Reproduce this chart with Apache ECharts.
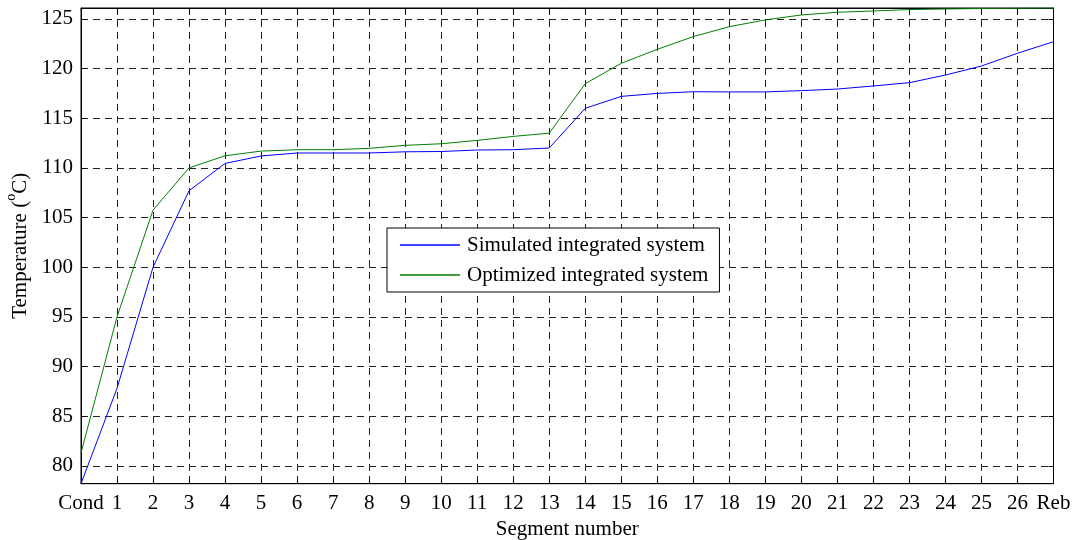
<!DOCTYPE html>
<html>
<head>
<meta charset="utf-8">
<script src="https://cdn.jsdelivr.net/npm/echarts@6/dist/echarts.min.js"></script>
<style>
html,body{margin:0;padding:0;background:#fff;}
#chart{width:1073px;height:540px;}
</style>
</head>
<body>
<div id="chart"></div>
<script>
const categories = ['Cond','1','2','3','4','5','6','7','8','9','10','11','12','13','14','15','16','17','18','19','20','21','22','23','24','25','26','Reb'];
const simulated = [78.2,87.8,100.0,107.7,110.45,111.2,111.5,111.5,111.5,111.62,111.65,111.8,111.83,112.0,116.0,117.2,117.5,117.67,117.65,117.65,117.78,117.94,118.25,118.58,119.35,120.26,121.54,122.71];
const optimized = [81.3,95.0,105.75,110.0,111.22,111.69,111.83,111.83,111.97,112.27,112.43,112.77,113.17,113.5,118.48,120.53,121.94,123.22,124.22,124.9,125.4,125.67,125.8,125.94,126.0,126.05,126.08,126.1];
const yTicks = [80,85,90,95,100,105,110,115,120,125];
const yMin = 78.2, yMax = 126.1;

const FONT = 'Liberation Serif';
const gridLine = {show:true, lineStyle:{color:'#222', type:[7,5], width:1}};
const chart = echarts.init(document.getElementById('chart'), null, {renderer:'canvas'});
chart.setOption({
  animation:false,
  textStyle:{fontFamily:FONT, color:'#000'},
  grid:{left:81, right:19.5, top:8, bottom:56.3, show:true, borderColor:'#000', borderWidth:1,
        containLabel:false, outerBoundsMode:'none'},
  legend:{
    left:387, top:228, orient:'vertical',
    backgroundColor:'#fff', borderColor:'#000', borderWidth:1,
    padding:[6.5,11,6.5,13], itemGap:9,
    itemWidth:60, itemHeight:1.5, icon:'rect', itemStyle:{borderWidth:0},
    textStyle:{fontFamily:FONT, fontSize:21, color:'#000', lineHeight:21, padding:[0,0,0,2]},
    data:['Simulated integrated system','Optimized integrated system']
  },
  xAxis:[{
    type:'category', data:categories, boundaryGap:false, position:'bottom',
    name:'Segment number', nameLocation:'middle', nameGap:33,
    nameTextStyle:{fontFamily:FONT, fontSize:21, color:'#000'},
    axisLine:{show:true, lineStyle:{color:'#000', width:1}},
    axisTick:{show:true, inside:true, length:5, interval:0, lineStyle:{color:'#000'}},
    axisLabel:{interval:0, margin:9, fontFamily:FONT, fontSize:21, color:'#000'},
    splitLine:Object.assign({interval:0}, gridLine)
  },{
    type:'category', data:categories, boundaryGap:false, position:'top',
    axisLine:{show:true, lineStyle:{color:'#000', width:1}},
    axisTick:{show:true, inside:true, length:5, interval:0, lineStyle:{color:'#000'}},
    axisLabel:{show:false}, splitLine:{show:false}
  }],
  yAxis:[{
    type:'value', min:yMin, max:yMax, position:'left',
    name:'{n|Temperature (}{sup|o}{n|C)}', nameLocation:'middle', nameGap:48, nameRotate:90,
    nameTextStyle:{fontFamily:FONT, fontSize:21, color:'#000',
      rich:{
        n:{fontFamily:FONT, fontSize:21, color:'#000', verticalAlign:'bottom'},
        sup:{fontFamily:FONT, fontSize:14, color:'#000', verticalAlign:'top', padding:[0,0,12,0]}
      }},
    axisLine:{show:true, lineStyle:{color:'#000', width:1}},
    axisTick:{show:true, inside:true, length:5, customValues:yTicks, lineStyle:{color:'#000'}},
    axisLabel:{margin:8, customValues:yTicks, fontFamily:FONT, fontSize:21, color:'#000'},
    splitLine:gridLine
  },{
    type:'value', min:yMin, max:yMax, position:'right',
    axisLine:{show:true, lineStyle:{color:'#000', width:1}},
    axisTick:{show:true, inside:true, length:5, customValues:yTicks, lineStyle:{color:'#000'}},
    axisLabel:{show:false, customValues:yTicks}, splitLine:{show:false}
  }],
  series:[{
    name:'Simulated integrated system', type:'line', data:simulated,
    xAxisIndex:0, yAxisIndex:0, symbol:'none', smooth:false,
    lineStyle:{color:'#0000ff', width:1}, itemStyle:{color:'#0000ff'}, z:5
  },{
    name:'Optimized integrated system', type:'line', data:optimized,
    xAxisIndex:0, yAxisIndex:0, symbol:'none', smooth:false,
    lineStyle:{color:'#008000', width:1}, itemStyle:{color:'#008000'}, z:5
  }]
});
</script>
</body>
</html>
